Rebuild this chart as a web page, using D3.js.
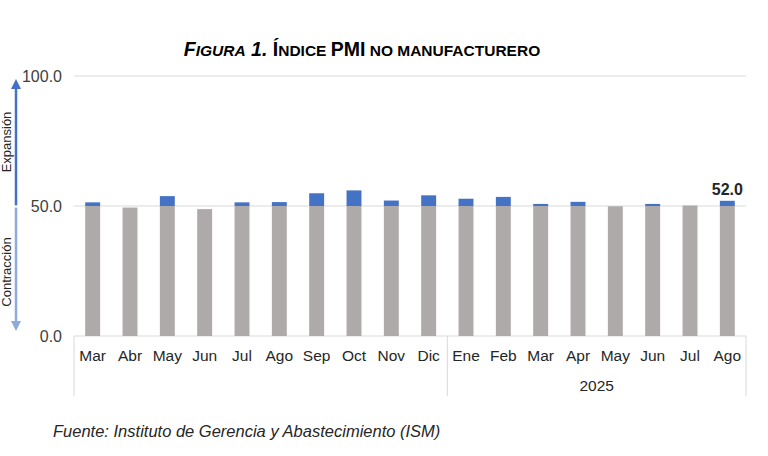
<!DOCTYPE html>
<html><head><meta charset="utf-8">
<script src="https://cdn.jsdelivr.net/npm/d3@7"></script>
<style>html,body{margin:0;padding:0;background:#fff;} svg{display:block;font-family:"Liberation Sans",Arial,sans-serif;}</style>
</head><body>
<svg id="c" width="768" height="456"></svg>
<script>
const months = ["Mar","Abr","May","Jun","Jul","Ago","Sep","Oct","Nov","Dic","Ene","Feb","Mar","Apr","May","Jun","Jul","Ago"];
const years = ["", "2025"];
const yearIndex = [0,0,0,0,0,0,0,0,0,0,1,1,1,1,1,1,1,1];
const pmi = [51.4,49.4,53.8,48.8,51.4,51.5,54.9,56.0,52.1,54.1,52.8,53.5,50.8,51.6,49.9,50.8,50.1,52.0];
const yTicks = [0,50,100];
const threshold = 50;

const svg = d3.select("#c");
const L = 74, R = 746, T = 76, B = 336;
const keys = months.map((m,i)=>i);
const x = d3.scaleBand().domain(keys).range([L,R]).paddingInner(0.6).paddingOuter(0.3);
const y = d3.scaleLinear().domain([0,100]).range([B,T]);

// gridlines
svg.append("g").selectAll("line").data(yTicks).join("line")
  .attr("x1",L).attr("x2",R).attr("y1",d=>y(d)).attr("y2",d=>y(d))
  .attr("stroke","#d9d9d9").attr("stroke-width",1);

// y tick labels
svg.append("g").selectAll("text").data(yTicks).join("text")
  .attr("x",62).attr("y",d=>y(d)+5.5).attr("text-anchor","end")
  .attr("font-size",16).attr("fill","#404040").text(d=>d.toFixed(1));

// bars gray
svg.append("g").selectAll("rect").data(pmi).join("rect")
  .attr("x",(d,i)=>x(i)).attr("width",x.bandwidth())
  .attr("y",d=>y(Math.min(d,threshold))).attr("height",d=>y(0)-y(Math.min(d,threshold)))
  .attr("fill","#aeaaaa");
// bars blue above threshold
svg.append("g").selectAll("rect").data(pmi.map((v,i)=>({v,i})).filter(d=>d.v>threshold)).join("rect")
  .attr("x",d=>x(d.i)).attr("width",x.bandwidth())
  .attr("y",d=>y(d.v)).attr("height",d=>y(threshold)-y(d.v))
  .attr("fill","#4472c4");

// last value label
const last = pmi.length-1;
svg.append("text").attr("x",x(last)+x.bandwidth()/2).attr("y",y(pmi[last])-6)
  .attr("text-anchor","middle").attr("font-size",16).attr("font-weight","bold").attr("fill","#262626")
  .text(pmi[last].toFixed(1));

// month labels
svg.append("g").selectAll("text").data(months).join("text")
  .attr("x",(d,i)=>x(i)+x.bandwidth()/2).attr("y",361).attr("text-anchor","middle")
  .attr("font-size",15.5).attr("fill","#262626").text(d=>d);

// group separators and year labels
const groups = d3.groups(keys, i=>yearIndex[i]);
const step = x.step();
const seps = [L];
groups.forEach(([g,idx])=>{
  const x1 = x(idx[idx.length-1]) + x.bandwidth() + step*x.paddingInner()/2;
  seps.push(Math.min(x1,R));
});
seps[seps.length-1] = R;
svg.append("g").selectAll("line").data(seps).join("line")
  .attr("x1",d=>d).attr("x2",d=>d).attr("y1",B).attr("y2",396)
  .attr("stroke","#d9d9d9").attr("stroke-width",1);
svg.append("g").selectAll("text").data(groups).join("text")
  .attr("x",([g,idx])=>(x(idx[0])+x(idx[idx.length-1])+x.bandwidth())/2)
  .attr("y",391).attr("text-anchor","middle").attr("font-size",15.5).attr("fill","#262626")
  .text(([g])=>years[g]);

// arrows
const defs = svg.append("defs");
function marker(id,color){
  defs.append("marker").attr("id",id).attr("viewBox","0 0 10 10").attr("refX",5).attr("refY",5)
    .attr("markerWidth",4).attr("markerHeight",4).attr("orient","auto-start-reverse")
    .append("path").attr("d","M0,0L10,5L0,10z").attr("fill",color);
}
marker("up","#4472c4"); marker("down","#8faadc");
const ax = 16;
svg.append("line").attr("x1",ax).attr("x2",ax).attr("y1",y(51)+2).attr("y2",y(100)+8)
  .attr("stroke","#4472c4").attr("stroke-width",2.5).attr("marker-end","url(#up)");
svg.append("line").attr("x1",ax).attr("x2",ax).attr("y1",y(49)-1).attr("y2",y(0)-10)
  .attr("stroke","#8faadc").attr("stroke-width",2.5).attr("marker-end","url(#down)");
svg.append("text").attr("transform","translate(11,142) rotate(-90)").attr("text-anchor","middle")
  .attr("font-size",13).attr("fill","#262626").text("Expansión");
svg.append("text").attr("transform","translate(11,272) rotate(-90)").attr("text-anchor","middle")
  .attr("font-size",13).attr("fill","#262626").text("Contracción");

// title
const title = svg.append("text").attr("x",362).attr("y",56).attr("text-anchor","middle")
  .attr("font-size",19.5).attr("font-weight","bold").attr("fill","#000");
title.append("tspan").attr("font-style","italic").text("F");
title.append("tspan").attr("font-style","italic").attr("font-size",15.5).text("IGURA");
title.append("tspan").attr("font-style","italic").text(" 1. ");
title.append("tspan").text("Í");
title.append("tspan").attr("font-size",15.5).text("NDICE ");
title.append("tspan").text("PMI");
title.append("tspan").attr("font-size",15.5).text(" NO MANUFACTURERO");

// source
svg.append("text").attr("x",53).attr("y",437).attr("font-size",16.5).attr("font-style","italic")
  .attr("fill","#262626").text("Fuente: Instituto de Gerencia y Abastecimiento (ISM)");
</script>
</body></html>
